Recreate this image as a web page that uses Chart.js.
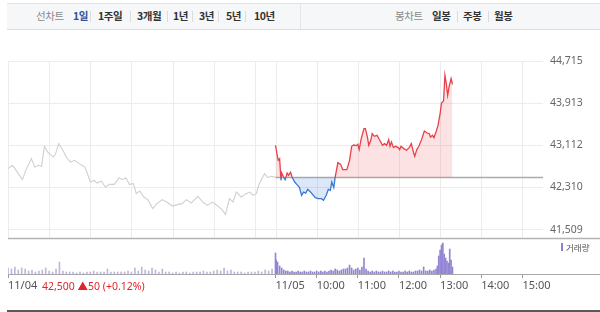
<!DOCTYPE html>
<html><head><meta charset="utf-8">
<script src="https://cdn.jsdelivr.net/npm/chart.js@4"></script>
<style>
html,body{margin:0;padding:0;background:#fff;width:600px;height:312px;overflow:hidden;font-family:"Noto Sans CJK KR","Noto Sans",sans-serif;}
#wrap{position:relative;width:600px;height:312px;}
#c{position:absolute;left:0;top:0;}
.nav{position:absolute;left:7px;top:3px;width:593px;height:27px;background:#f6f7f9;border-top:1px solid #e2e3e6;border-bottom:1px solid #dcdde0;box-sizing:border-box;}
.t{position:absolute;top:3px;line-height:25px;font-size:10.5px;color:#333;font-weight:bold;white-space:nowrap;letter-spacing:-0.4px;}
.g{color:#8a8a8a;font-weight:normal;}
.b{color:#2f4f9e;}
.sep{position:absolute;top:11px;width:1px;height:11px;background:#dcdcdc;}
.red{position:absolute;left:42px;top:279px;font-size:10.5px;line-height:14px;color:#e0252b;white-space:nowrap;font-family:"Noto Sans","Noto Sans CJK KR",sans-serif;}
.leg{position:absolute;left:566px;top:241px;font-size:8.5px;line-height:12px;color:#555;white-space:nowrap;}
.legbar{position:absolute;left:561px;top:243px;width:2px;height:8px;background:#8f80cf;}
.scroll{position:absolute;left:7px;top:310px;width:593px;height:2px;background:#5a5a5a;}
</style></head>
<body><div id="wrap">
<div class="nav"></div>
<div class="sep" style="left:300px;top:4px;height:25px;background:#e6e6e6"></div>
<span class="t g" style="left:36px">선차트</span>
<span class="t b" style="left:73px">1일</span>
<div class="sep" style="left:90px"></div>
<span class="t" style="left:98px">1주일</span>
<div class="sep" style="left:130px"></div>
<span class="t" style="left:137px">3개월</span>
<div class="sep" style="left:167px"></div>
<span class="t" style="left:173px">1년</span>
<div class="sep" style="left:192px"></div>
<span class="t" style="left:199px">3년</span>
<div class="sep" style="left:218px"></div>
<span class="t" style="left:226px">5년</span>
<div class="sep" style="left:245px"></div>
<span class="t" style="left:254px">10년</span>
<span class="t g" style="left:395px">봉차트</span>
<span class="t" style="left:432px">일봉</span>
<div class="sep" style="left:457px"></div>
<span class="t" style="left:463px">주봉</span>
<div class="sep" style="left:488px"></div>
<span class="t" style="left:494px">월봉</span>
<canvas id="c" width="600" height="312"></canvas>
<div class="legbar"></div><span class="leg">거래량</span>
<span class="red">42,500 ▲50 (+0.12%)</span>
<div class="scroll"></div>
</div>
<script>
// ---- data ----
const prevClose = 42500;
const priceTicks = [41509, 42310, 43112, 43913, 44715];
const dayLabels = ['11/04', '11/05'];
const hourLabels = ['10:00', '11:00', '12:00', '13:00', '14:00', '15:00'];
// minutes after 09:00 on 11/04
const day1Minutes = [0,6,10,15,21,26,34,39,44,49,53,58,66,69,74,80,85,91,97,104,112,115,120,125,130,136,142,148,155,162,167,172,177,183,187,192,198,204,211,217,225,231,240,248,254,260,267,277,284,291,298,306,312,317,323,328,333,340,347,353,357,362,366,374,379,383,390];
const day1Prices = [42668,42731,42674,42573,42459,42636,42859,42699,42731,42712,43093,42984,42889,42940,43144,43017,42889,42794,42826,42764,42699,42604,42414,42446,42395,42433,42318,42370,42370,42497,42459,42497,42370,42383,42193,42242,42128,42079,41908,42003,42079,42033,41957,41989,42003,42079,42014,42142,42033,41970,42033,41957,41889,41799,42098,42033,42223,42128,42193,42223,42161,42193,42370,42573,42497,42522,42509];
// minutes after 09:00 on 11/05
const day2Minutes = [0,3,4,6,8,9,12,14,17,19,22,24,28,31,35,38,41,44,47,51,54,58,62,67,70,74,77,80,82,85,87,91,95,98,104,108,111,114,118,120,122,125,129,131,134,136,139,141,144,148,152,156,159,162,165,167,169,172,175,179,181,183,187,191,195,198,201,203,206,209,213,217,221,224,226,229,231,234,237,240,242,245,247,249,251,253,256,258];
const day2Prices = [43112,42889,42826,42859,42446,42585,42500,42459,42585,42541,42598,42509,42414,42370,42307,42161,42223,42204,42275,42223,42180,42117,42098,42098,42066,42161,42275,42256,42414,42307,42509,42783,42750,42649,42649,42826,43093,43117,43106,43131,43030,43239,43429,43429,43269,43112,43207,43334,43283,43302,43207,43112,43144,43112,43220,43093,43174,43068,43093,43068,43030,43093,43049,43017,43068,43144,42984,42902,43030,43093,43220,43384,43346,43334,43269,43302,43258,43365,43492,43715,43916,43954,44443,44285,44063,44220,44380,44272];
// volume (relative units)
const vol1Minutes = [0,5,10,15,20,25,30,35,40,45,50,55,60,65,70,75,80,85,90,95,100,105,110,115,120,125,130,135,140,145,150,155,160,165,170,175,180,185,190,195,200,205,210,215,220,225,230,235,240,245,250,255,260,265,270,275,280,285,290,295,300,305,310,315,320,325,330,335,340,345,350,355,360,365,370,375,380,385];
const vol1Values = [6,5,7,4,6,5,3,4,2,3,4,6,3,2,5,12,3,2,2,2,1,2,1,2,2,3,2,2,2,5,2,2,2,2,2,3,2,6,3,7,4,3,6,4,2,5,2,2,1,2,1,2,2,1,2,2,2,3,2,2,3,4,3,6,3,4,2,2,2,1,2,2,2,3,2,4,3,5];
const vol2Minutes = [0,1,3,6,9,12,15,18,21,24,27,30,33,36,39,42,45,48,51,54,57,60,63,66,69,72,75,78,81,84,87,90,93,96,99,102,105,108,111,114,117,120,123,126,129,132,135,138,141,144,147,150,153,156,159,162,165,168,171,174,177,180,183,186,189,192,195,198,201,204,207,210,213,216,219,222,225,228,231,234,236,238,240,242,244,246,248,250,252,254,256,258];
const vol2Values = [21,14,12,8,6,4,3,3,2,3,2,2,3,2,2,3,2,2,3,2,2,3,2,3,2,3,2,3,4,3,5,4,3,4,5,5,6,9,6,4,5,6,4,7,16,5,3,2,3,2,3,2,2,3,2,2,3,2,3,2,2,3,2,2,3,2,3,2,2,3,3,4,3,7,3,3,4,3,4,5,8,18,24,29,31,20,16,13,11,25,14,7];

// ---- chart ----
const RED = '#e8404a', BLUE = '#3b78d0';
const dayLen = 390;
const toPts = (ms, vs, off) => ms.map((m, i) => ({x: m + off, y: vs[i]}));
const gridMinutes = [0,60,120,180,240,300,360,390,450,510,570,630,690,750];
const labelTicks = [0,390,450,510,570,630,690,750];
const labelText = [...dayLabels, ...hourLabels];

const overlay = {
  id: 'overlay',
  beforeDatasetsDraw(chart) {
    const {ctx, chartArea, scales} = chart;
    const sepY = scales.y.getPixelForValue(41344);
    ctx.save();
    ctx.strokeStyle = '#ececec'; ctx.lineWidth = 1;
    gridMinutes.forEach(m => {
      const x = Math.round(scales.x.getPixelForValue(m)) + 0.5;
      ctx.beginPath(); ctx.moveTo(x, chartArea.top); ctx.lineTo(x, sepY); ctx.stroke();
    });
    ctx.restore();
  },
  afterDraw(chart) {
    const {ctx, chartArea, scales} = chart;
    const sepY = Math.round(scales.y.getPixelForValue(41344)) + 0.5;
    ctx.save();
    ctx.strokeStyle = '#b4b4b4'; ctx.lineWidth = 1.5;
    ctx.beginPath(); ctx.moveTo(chartArea.left, sepY); ctx.lineTo(600, sepY); ctx.stroke();
    ctx.strokeStyle = '#a8a8a8'; ctx.lineWidth = 1;
    const by = chartArea.bottom + 0.5;
    ctx.beginPath(); ctx.moveTo(chartArea.left, by); ctx.lineTo(600, by); ctx.stroke();
    ctx.restore();
  }
};

new Chart(document.getElementById('c'), {
  data: {
    datasets: [
      { type: 'line', data: toPts(day1Minutes, day1Prices, 0), borderColor: '#d0d0d0', borderWidth: 1.1, pointRadius: 0, tension: 0, fill: false, yAxisID: 'y', order: 3 },
      { type: 'line', data: toPts(day2Minutes, day2Prices, dayLen), borderWidth: 1.3, pointRadius: 0, tension: 0, yAxisID: 'y', order: 1,
        fill: { value: prevClose, above: 'rgba(246,110,118,0.2)', below: 'rgba(80,140,225,0.2)' },
        borderColor: (c) => {
          const ch = c.chart, a = ch.chartArea;
          if (!a) return RED;
          const yr = ch.scales.y.getPixelForValue(prevClose);
          const s = Math.min(1, Math.max(0, (yr - a.top) / (a.bottom - a.top)));
          const g = ch.ctx.createLinearGradient(0, a.top, 0, a.bottom);
          g.addColorStop(0, RED); g.addColorStop(s, RED); g.addColorStop(s, BLUE); g.addColorStop(1, BLUE);
          return g;
        } },
      { type: 'line', data: [{x: dayLen, y: prevClose}, {x: 2 * dayLen, y: prevClose}], borderColor: '#ababab', borderWidth: 1.4, pointRadius: 0, fill: false, yAxisID: 'y', order: 2 },
      { type: 'bar', data: [...toPts(vol1Minutes, vol1Values, 0), ...toPts(vol2Minutes, vol2Values, dayLen)], yAxisID: 'v', barThickness: 1, order: 4,
        backgroundColor: (c) => (c.raw && c.raw.x < dayLen) ? '#beb6de' : '#9485d3' }
    ]
  },
  options: {
    animation: false, responsive: false, events: [],
    layout: { padding: { left: 8, top: 61, right: 0, bottom: 14 } },
    plugins: { legend: { display: false }, tooltip: { enabled: false } },
    scales: {
      x: { type: 'linear', min: 0, max: 2 * dayLen, position: 'bottom', offset: false,
        afterBuildTicks: (s) => { s.ticks = labelTicks.map(v => ({value: v})); },
        afterFit: (s) => { s.height = 24; s.paddingLeft = 0; s.paddingRight = 0; },
        grid: { drawOnChartArea: false, drawTicks: true, tickLength: 4, color: '#999', offset: false },
        border: { display: false },
        ticks: { align: 'start', padding: 1, color: '#555', maxRotation: 0, autoSkip: false,
          font: { size: 11, family: '"Noto Sans","DejaVu Sans",sans-serif' },
          callback: (v) => { const i = labelTicks.indexOf(v); return i >= 0 ? labelText[i] : ''; } } },
      y: { type: 'linear', position: 'right', min: 40665, max: 44715,
        afterBuildTicks: (s) => { s.ticks = priceTicks.map(v => ({value: v})); },
        afterFit: (s) => { s.width = 57; s.paddingTop = 0; s.paddingBottom = 0; },
        grid: { color: '#ececec', drawTicks: false },
        border: { display: false },
        ticks: { padding: 7, color: '#666', font: { size: 10.5, family: '"Noto Sans","DejaVu Sans",sans-serif' },
          callback: (v) => v.toLocaleString('en-US') } },
      v: { type: 'linear', display: false, min: 0, max: 213 }
    }
  },
  plugins: [overlay]
});
</script>
</body></html>
